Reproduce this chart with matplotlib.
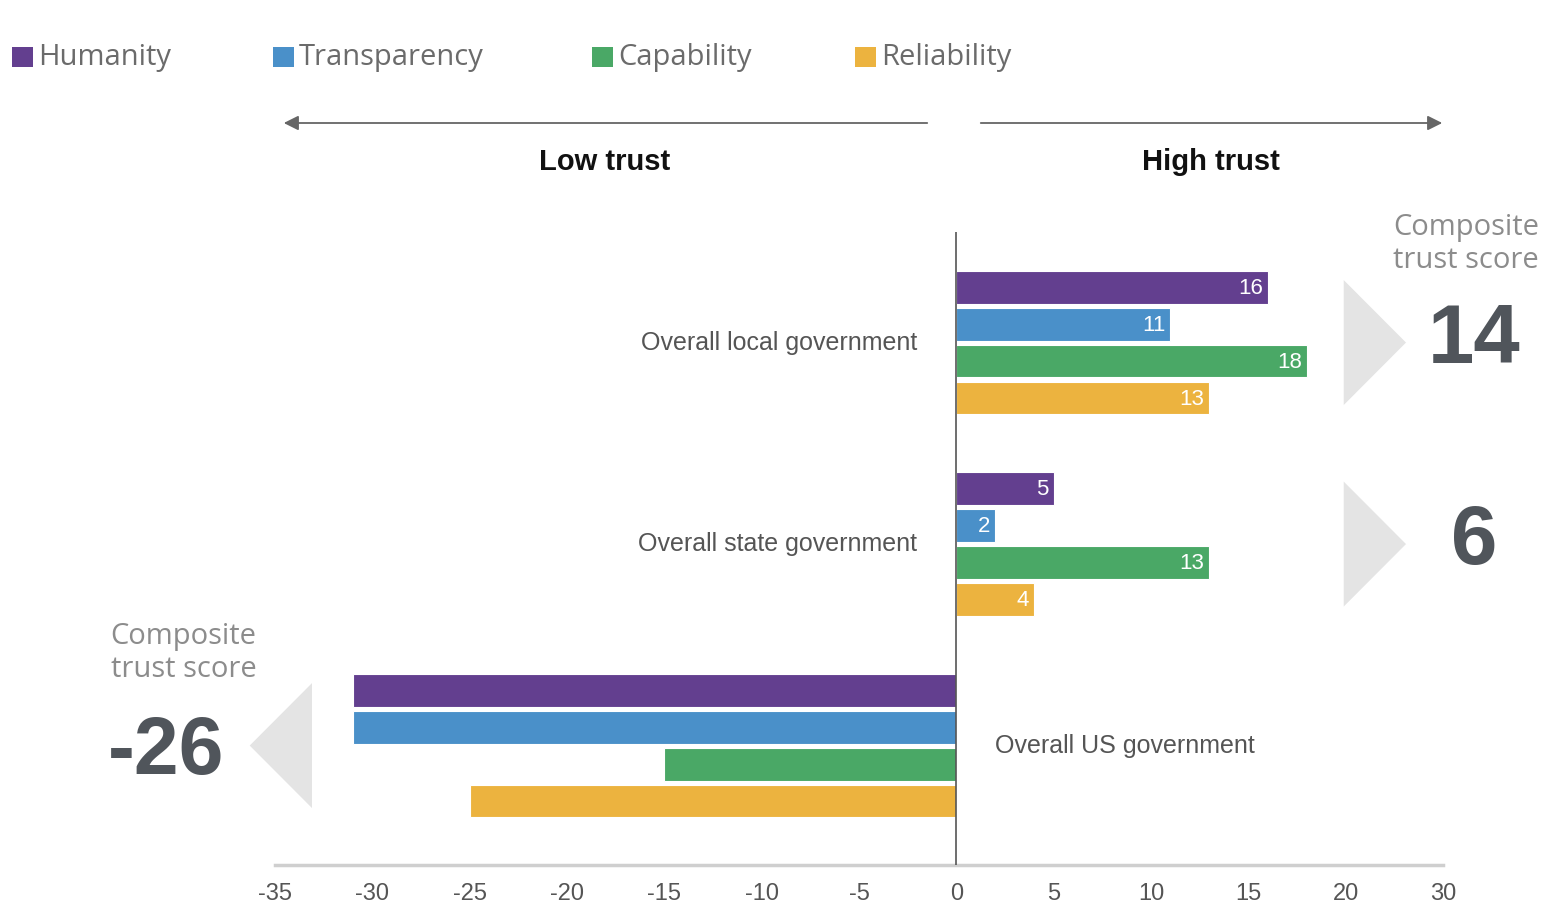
import numpy as np
import matplotlib
matplotlib.use("Agg")
import matplotlib.pyplot as plt
from matplotlib.patches import Polygon, Rectangle, FancyArrowPatch

# data
groups = ["Overall local government", "Overall state government", "Overall US government"]
series = ["Humanity", "Transparency", "Capability", "Reliability"]
colors = ["#633f8f", "#4a90c9", "#4aa866", "#ecb33f"]
humanity = [16, 5, -31]
transparency = [11, 2, -31]
capability = [18, 13, -15]
reliability = [13, 4, -25]
composite = [14, 6, -26]
tick_pos = [-35, -30, -25, -20, -15, -10, -5, 0, 5, 10, 15, 20, 25]
tick_labels = ["-35", "-30", "-25", "-20", "-15", "-10", "-5", "0", "5", "10", "15", "20", "30"]

COND = ["Liberation Sans Narrow", "Liberation Sans", "DejaVu Sans"]
OPEN = ["Open Sans", "DejaVu Sans"]
GRAY = "#6b6b6b"

fig = plt.figure(figsize=(15.56, 9.23), dpi=100)
W, H = 1556, 923
ax = fig.add_axes([275 / W, 1 - 865 / H, 1168 / W, (865 - 232) / H])
ax.set_xlim(-35, 25)
ax.set_ylim(15.63, -1.49)

values = np.array([humanity, transparency, capability, reliability]).T
gstep = 5.45
for s in range(len(series)):
    y = np.arange(len(groups)) * gstep + s
    ax.barh(y, values[:, s], height=0.89, color=colors[s], edgecolor="white", linewidth=0.8, zorder=2)
    for g in range(len(groups)):
        v = values[g, s]
        if v > 0:
            ax.text(v - 0.25, y[g] + 0.03, str(v), ha="right", va="center", color="white",
                    fontsize=16, family=COND, zorder=3)

for g, name in enumerate(groups):
    yc = g * gstep + 1.5
    if composite[g] >= 0:
        ax.text(-2.0, yc, name, ha="right", va="center", fontsize=18, color="#555555", family=COND)
        tri = Polygon([[19.9, yc - 1.69], [23.1, yc], [19.9, yc + 1.69]], closed=True,
                      facecolor="#e4e4e4", edgecolor="none", clip_on=False)
        ax.add_patch(tri)
        ax.text(26.6, yc - 0.05, str(composite[g]), ha="center", va="center", fontsize=60,
                fontweight="bold", color="#50555b", family=COND)
    else:
        ax.text(2.0, yc, name, ha="left", va="center", fontsize=18, color="#555555", family=COND)
        tri = Polygon([[-33.1, yc - 1.69], [-36.3, yc], [-33.1, yc + 1.69]], closed=True,
                      facecolor="#e4e4e4", edgecolor="none", clip_on=False)
        ax.add_patch(tri)
        ax.text(-40.6, yc + 0.2, str(composite[g]), ha="center", va="center", fontsize=58,
                fontweight="bold", color="#50555b", family=COND)

# composite labels
ax.text(26.2, -1.16, "Composite\ntrust score", ha="center", va="center", fontsize=21,
        color="#8c8c8c", family=OPEN)
ax.text(-39.7, 2 * gstep - 1.0, "Composite\ntrust score", ha="center", va="center", fontsize=21,
        color="#8c8c8c", family=OPEN)

ax.axvline(0, color="#555555", lw=1.2, zorder=4)
for sp in ["top", "right", "left"]:
    ax.spines[sp].set_visible(False)
ax.spines["bottom"].set_color("#cfcfcf")
ax.spines["bottom"].set_linewidth(2.5)
ax.set_yticks([])
ax.set_xticks(tick_pos)
ax.set_xticklabels(tick_labels, family=COND, fontsize=17, color="#555555")
ax.tick_params(axis="x", length=0, pad=13)

# legend along the top
leg_x = [12, 273, 592, 855]
for s, name in enumerate(series):
    fig.patches.append(Rectangle((leg_x[s] / W, 1 - 67 / H), 21 / W, 20 / H,
                                 transform=fig.transFigure, facecolor=colors[s], edgecolor="none"))
    fig.text((leg_x[s] + 26) / W, 1 - 58 / H, name, ha="left", va="center", fontsize=21,
             color=GRAY, family=OPEN)

# low / high trust arrows
ya = 1 - 123 / H
fig.add_artist(FancyArrowPatch((930 / W, ya), (281 / W, ya), transform=fig.transFigure,
               arrowstyle="-|>", mutation_scale=22, color="#666666", lw=1.3))
fig.add_artist(FancyArrowPatch((978 / W, ya), (1445 / W, ya), transform=fig.transFigure,
               arrowstyle="-|>", mutation_scale=22, color="#666666", lw=1.3))
fig.text(605 / W, 1 - 162 / H, "Low trust", ha="center", va="center", fontsize=21,
         fontweight="bold", color="#111111", family=COND)
fig.text(1211 / W, 1 - 162 / H, "High trust", ha="center", va="center", fontsize=21,
         fontweight="bold", color="#111111", family=COND)

fig.savefig("out.png", dpi=100, facecolor="white")
